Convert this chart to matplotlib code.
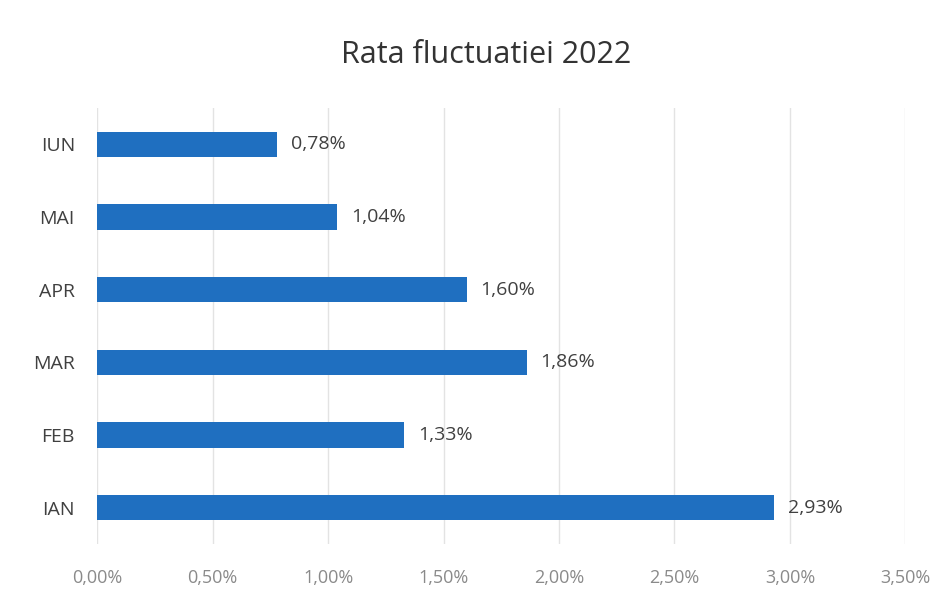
import matplotlib.pyplot as plt
from matplotlib.ticker import FuncFormatter

months = ['IAN', 'FEB', 'MAR', 'APR', 'MAI', 'IUN']
rates = [2.93, 1.33, 1.86, 1.60, 1.04, 0.78]
x_ticks = [0.0, 0.5, 1.0, 1.5, 2.0, 2.5, 3.0, 3.5]

plt.rcParams['font.family'] = ['Open Sans', 'DejaVu Sans']

fig = plt.figure(figsize=(9.53, 6.03), dpi=100)
ax = fig.add_axes([0.102, 0.098, 0.848, 0.723])

bar_color = '#1f6fc0'
y = range(len(months))
ax.barh(y, rates, height=0.35, color=bar_color, zorder=3)

for i, v in enumerate(rates):
    ax.text(v + 0.06, i, f"{v:.2f}%".replace('.', ','), va='center', ha='left',
            fontsize=14, color='#404040', zorder=4)

ax.set_xlim(0, 3.5)
ax.set_ylim(-0.5, len(months) - 0.5)
ax.set_xticks(x_ticks)
ax.xaxis.set_major_formatter(FuncFormatter(lambda v, p: f"{v:.2f}%".replace('.', ',')))
ax.set_yticks(list(y))
ax.set_yticklabels(months)
ax.tick_params(axis='x', colors='#8a8a8a', labelsize=13, length=0, pad=18)
ax.tick_params(axis='y', colors='#404040', labelsize=14, length=0, pad=16)
ax.grid(axis='x', color='#e3e3e3', linewidth=1, zorder=0)
for s in ax.spines.values():
    s.set_visible(False)

fig.text(0.51, 0.908, 'Rata fluctuatiei 2022', ha='center', va='center',
         fontsize=22, color='#333333')

fig.savefig('out.png', dpi=100)
